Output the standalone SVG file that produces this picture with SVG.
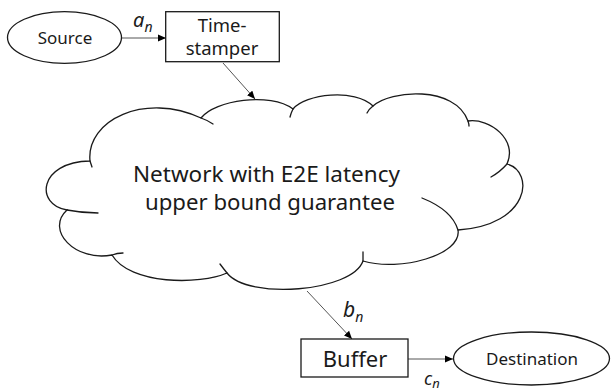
<svg xmlns="http://www.w3.org/2000/svg" width="611" height="392" viewBox="0 0 611 392">
  <defs>
    <marker id="arrow" markerUnits="userSpaceOnUse" markerWidth="9" markerHeight="8" refX="8" refY="4" orient="auto">
      <path d="M0,0.5 L8,4 L0,7.5 Z" fill="#000"/>
    </marker>
    <style>
      .shape { fill: #fff; stroke: #1a1a1a; stroke-width: 1.3; }
      .tail { fill: none; stroke: #1a1a1a; stroke-width: 1.3; stroke-linecap: round; }
      .edge { fill: none; stroke: #555; stroke-width: 1; marker-end: url(#arrow); }
      .label { font-family: "Noto Sans", "Open Sans", "DejaVu Sans", sans-serif; fill: #1a1a1a; text-anchor: middle; }
      .math { font-family: "Noto Sans", "Open Sans", "DejaVu Sans", sans-serif; font-style: italic; fill: #1a1a1a; }
    </style>
  </defs>
  <rect width="611" height="392" fill="#fff"/>

  <!-- connectors -->
  <g id="connectors">
    <line class="edge" x1="122" y1="38" x2="166" y2="38"/>
    <line class="edge" x1="223" y1="63" x2="255" y2="99"/>
    <line class="edge" x1="307" y1="291" x2="352" y2="339"/>
    <line class="edge" x1="408" y1="359" x2="453" y2="359"/>
    <text class="math" x="133" y="27" font-size="20">a<tspan font-size="14" dy="5">n</tspan></text>
    <text class="math" x="343" y="317" font-size="21">b<tspan font-size="14" dy="5">n</tspan></text>
    <text class="math" x="424" y="385" font-size="18">c<tspan font-size="13" dy="3">n</tspan></text>
  </g>

  <g id="source">
    <ellipse class="shape" cx="64.5" cy="37.5" rx="57" ry="25.8"/>
    <text class="label" x="65" y="44" font-size="17">Source</text>
  </g>

  <g id="timestamper">
    <rect class="shape" x="165.7" y="11.7" width="113.6" height="50"/>
    <text class="label" x="222" y="32" font-size="18.5">Time-</text>
    <text class="label" x="222" y="55" font-size="18.5">stamper</text>
  </g>

  <g id="network">
    <path class="shape" d="M90,161 C86,120 145,92 201,118 C215,100 270,92 293,109 C305,94 355,88 373,106 C390,90 455,85 468,121 C490,118 518,140 507,164 C535,172 530,225 458,230 C462,255 400,272 363,261 C352,292 248,300 227,273 C200,285 130,285 112,255 C75,262 45,230 67,210 C35,205 38,162 90,161 Z"/>
    <path class="tail" d="M90,161 Q91,164 92,167 M201,118 Q207,120 213,124 M293,109 Q291,113 290,117 M373,106 Q369,109 367,113 M468,121 Q469,124 469,126 M507,164 Q500,172 491,177 M422,198 Q452,210 458,230 M363,261 Q363,256 363,252 M227,273 Q223,268 220,264 M112,255 Q117,253 123,253 M67,210 Q82,213 98,213"/>
    <text class="label" x="266.5" y="182" font-size="22.5" textLength="267" lengthAdjust="spacingAndGlyphs">Network with E2E latency</text>
    <text class="label" x="270" y="210" font-size="22.5" textLength="250" lengthAdjust="spacingAndGlyphs">upper bound guarantee</text>
  </g>

  <g id="buffer">
    <rect class="shape" x="301" y="339" width="107" height="38"/>
    <text class="label" x="355" y="367" font-size="22">Buffer</text>
  </g>

  <g id="destination">
    <ellipse class="shape" cx="531.5" cy="358.5" rx="78" ry="26.5"/>
    <text class="label" x="532" y="365" font-size="17">Destination</text>
  </g>
</svg>
